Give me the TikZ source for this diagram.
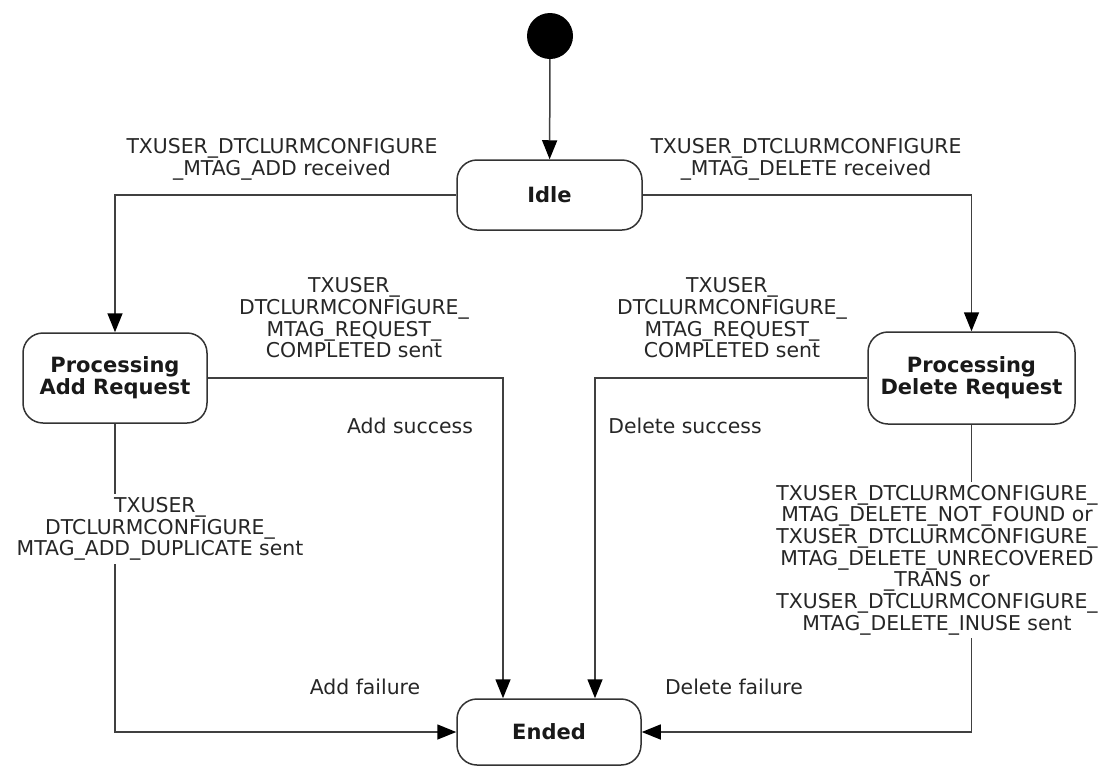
\documentclass[tikz,border=0pt]{standalone}
\usepackage{fontspec}
\setmainfont{DejaVu Sans}
\usetikzlibrary{arrows.meta}
\begin{document}
\begin{tikzpicture}[x=1pt,y=-1pt,
  state/.style={draw=black!80, line width=1.5pt, rounded corners=20pt, fill=white,
    font=\fontsize{21}{22}\selectfont\bfseries, align=center, inner sep=0pt, text=black!90},
  lbl/.style={font=\fontsize{20.4}{21.7}\selectfont, align=center, inner sep=0pt, text=black!85},
  cover/.style={lbl, fill=white, inner xsep=0pt, inner ysep=3pt},
  conn/.style={draw=black!75, line width=1.5pt, -{Triangle[length=19pt,width=15pt,fill=black,color=black]}},
]
\useasboundingbox (0,0) rectangle (1103,766);
% states
\node[fill=black, circle, minimum size=46pt, inner sep=0pt] (init) at (550,36) {};
\node[state, minimum width=185pt, minimum height=70pt] (idle) at (549.5,195) {Idle};
\node[state, minimum width=184pt, minimum height=90pt] (add) at (115,378) {Processing\\Add Request};
\node[state, minimum width=207pt, minimum height=92pt] (del) at (971.5,378) {Processing\\Delete Request};
\node[state, minimum width=184pt, minimum height=66pt] (ended) at (549,732) {Ended};
% connectors
\draw[conn] (init) -- (idle);
\draw[conn] (idle.west) -| (add.north);
\draw[conn] (idle.east) -| (del.north);
\draw[conn] (add.east) -| ([xshift=-46pt]ended.north);
\draw[conn] (del.west) -| ([xshift=46pt]ended.north);
\draw[conn] (add.south) |- (ended.west);
\draw[conn] (del.south) |- (ended.east);
% labels
\node[lbl] (l1) at (282,159) {TXUSER\_DTCLURMCONFIGURE\\\_MTAG\_ADD received};
\node[lbl] (l2) at (806,159) {TXUSER\_DTCLURMCONFIGURE\\\_MTAG\_DELETE received};
\node[lbl] (l3) at (354,318) {TXUSER\_\\DTCLURMCONFIGURE\_\\MTAG\_REQUEST\_\\COMPLETED sent};
\node[lbl] (l4) at (732,318) {TXUSER\_\\DTCLURMCONFIGURE\_\\MTAG\_REQUEST\_\\COMPLETED sent};
\node[lbl] (l5) at (410,426) {Add success};
\node[lbl] (l6) at (685,426) {Delete success};
\node[cover] (l7) at (160,529) {TXUSER\_\\DTCLURMCONFIGURE\_\\MTAG\_ADD\_DUPLICATE sent};
\node[cover] (l8) at (937,560) {TXUSER\_DTCLURMCONFIGURE\_\\MTAG\_DELETE\_NOT\_FOUND or\\TXUSER\_DTCLURMCONFIGURE\_\\MTAG\_DELETE\_UNRECOVERED\\\_TRANS or\\TXUSER\_DTCLURMCONFIGURE\_\\MTAG\_DELETE\_INUSE sent};
\node[lbl] (l9) at (365,687) {Add failure};
\node[lbl] (l10) at (734,687) {Delete failure};
\end{tikzpicture}
\end{document}
